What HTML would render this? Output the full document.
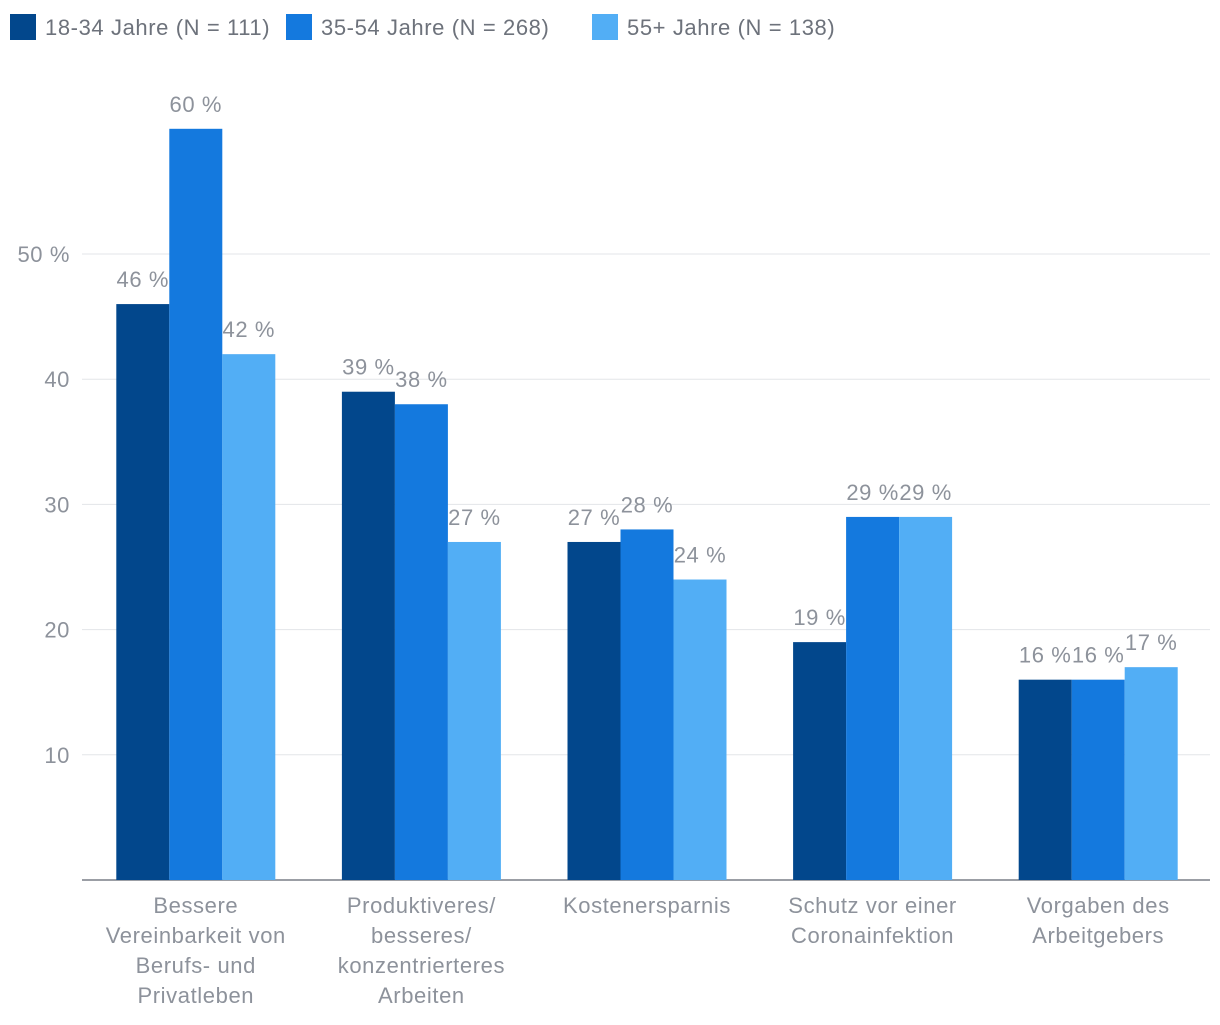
<!DOCTYPE html>
<html><head><meta charset="utf-8">
<style>
body{margin:0;background:#fff;width:1220px;height:1020px;overflow:hidden;font-family:"Liberation Sans",sans-serif;}
svg text{font-family:"Liberation Sans",sans-serif;letter-spacing:0.6px;}
</style></head>
<body>
<svg id="chart" width="1220" height="1020" xmlns="http://www.w3.org/2000/svg">
<g id="legend"></g>
<g id="grid"></g>
<g id="bars"></g>
<g id="labels"></g>
<g id="xlabels"></g>
</svg>
<script>
const categories=[["Bessere","Vereinbarkeit von","Berufs- und","Privatleben"],["Produktiveres/","besseres/","konzentrierteres","Arbeiten"],["Kostenersparnis"],["Schutz vor einer","Coronainfektion"],["Vorgaben des","Arbeitgebers"]];
const seriesNames=["18-34 Jahre (N = 111)","35-54 Jahre (N = 268)","55+ Jahre (N = 138)"];
const series1=[46,39,27,19,16];
const series2=[60,38,28,29,16];
const series3=[42,27,24,29,17];
const yTicks=[10,20,30,40,50];
const colors=["#02478c","#1479de","#52aef5"];
const NS="http://www.w3.org/2000/svg";
const x0=82,x1=1210,base=880,pxPerUnit=12.52,barW=53;
const y=v=>base-v*pxPerUnit;
const groupW=(x1-x0)/categories.length;
const cx=i=>x0+groupW*(i+0.5)+1;
function mk(tag,attrs,parent,text){const e=document.createElementNS(NS,tag);for(const k in attrs)e.setAttribute(k,attrs[k]);if(text!==undefined)e.textContent=text;parent.appendChild(e);return e;}
const grid=document.getElementById('grid');
yTicks.forEach(t=>{
  const l=mk('line',{x1:x0,x2:x1,y1:y(t),y2:y(t),stroke:'#e3e5e8','stroke-width':1},grid);
  
  
  const tx=mk('text',{x:70,y:y(t)+8,'text-anchor':'end','font-size':22,fill:'#8d929b'},grid,t===50?'50 %':String(t));
  
  
});
const ax=mk('line',{x1:x0,x2:x1,y1:base,y2:base,stroke:'#7a7f87','stroke-width':1.5},grid);


const all=[series1,series2,series3];
const bars=document.getElementById('bars'),labels=document.getElementById('labels'),xl=document.getElementById('xlabels');
categories.forEach((c,i)=>{
  all.forEach((s,j)=>{
    const bx=cx(i)+(j-1.5)*barW;
    const r=mk('rect',{x:bx,y:y(s[i]),width:barW,height:s[i]*pxPerUnit,fill:colors[j]},bars);
    
    
    const t=mk('text',{x:bx+barW/2,y:y(s[i])-17,'text-anchor':'middle','font-size':22,fill:'#8d929b'},labels,s[i]+' %');
    
    
  });
  c.forEach((line,k)=>{
    const t=mk('text',{x:cx(i),y:913+k*30,'text-anchor':'middle','font-size':22,fill:'#8d929b'},xl,line);
    
    
  });
});
const lg=document.getElementById('legend');
const lx=[10,286,592];
seriesNames.forEach((n,j)=>{
  const r=mk('rect',{x:lx[j],y:14,width:26,height:26,fill:colors[j]},lg);
  
  
  const t=mk('text',{x:lx[j]+35,y:35,'font-size':22,fill:'#6d727b'},lg,n);
  
  
});
</script>
</body></html>
